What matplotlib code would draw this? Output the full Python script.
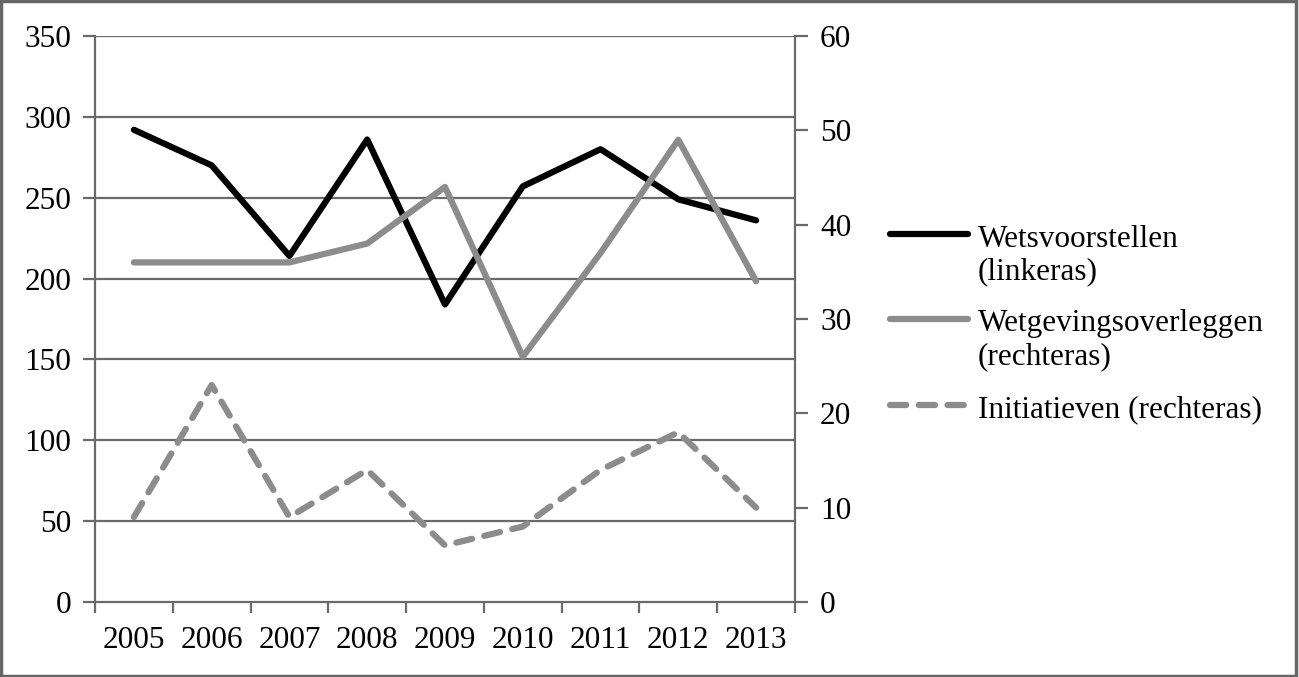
import matplotlib
matplotlib.use("Agg")
import matplotlib.pyplot as plt
from matplotlib.patches import Rectangle
from matplotlib.lines import Line2D

years = ["2005", "2006", "2007", "2008", "2009", "2010", "2011", "2012", "2013"]
wetsvoorstellen = [292, 270, 214, 286, 184, 257, 280, 249, 236]
wetgevingsoverleggen = [36, 36, 36, 38, 44, 26, 37, 49, 34]
initiatieven = [9, 23, 9, 14, 6, 8, 14, 18, 10]
left_ticks = [0, 50, 100, 150, 200, 250, 300, 350]
right_ticks = [0, 10, 20, 30, 40, 50, 60]
legend_labels = [["Wetsvoorstellen", "(linkeras)"],
                 ["Wetgevingsoverleggen", "(rechteras)"],
                 ["Initiatieven (rechteras)"]]

plt.rcParams['font.family'] = ['Liberation Serif', 'DejaVu Serif']
W, H = 1299, 677
FS = 22.5
fig = plt.figure(figsize=(W / 100, H / 100), dpi=100)
ax = fig.add_axes([95 / W, (H - 602) / H, 700 / W, 566 / H])
ax2 = ax.twinx()

grid_c = "#6a6a6a"
grey = "#8c8c8c"
x = list(range(len(years)))

ax.set_xlim(-0.5, len(years) - 0.5)
ax.set_ylim(0, 350)
ax2.set_ylim(0, 60)
ax.set_yticks(left_ticks)
ax2.set_yticks(right_ticks)
ax.set_xticks(x)
ax.set_xticklabels(years)
ax.set_xticks([i - 0.5 for i in range(len(years) + 1)], minor=True)
ax.tick_params(axis='x', which='major', length=0, pad=17, labelsize=FS)
ax.tick_params(axis='x', which='minor', length=8, width=1.6, color=grid_c, direction='out')
ax.tick_params(axis='y', length=9, width=1.6, color=grid_c, labelsize=FS, pad=8)
ax2.tick_params(axis='y', length=9, width=1.6, color=grid_c, labelsize=FS, pad=9)

for t in left_ticks[1:]:
    ax.axhline(t, color=grid_c, lw=1.6, zorder=1)

for a in (ax, ax2):
    for s in a.spines.values():
        s.set_visible(False)
ax.spines['left'].set_visible(True)
ax.spines['bottom'].set_visible(True)
ax2.spines['right'].set_visible(True)
for s in ('left', 'bottom'):
    ax.spines[s].set_color(grid_c)
    ax.spines[s].set_linewidth(1.6)
ax2.spines['right'].set_color(grid_c)
ax2.spines['right'].set_linewidth(1.6)

ax.plot(x, wetsvoorstellen, color='black', lw=4.5, solid_capstyle='round', zorder=5)
ax2.plot(x, wetgevingsoverleggen, color=grey, lw=4.5, solid_capstyle='round', zorder=4)
ax2.plot(x, initiatieven, color=grey, lw=4.5, ls=(0, (2.6, 2.0)), dash_capstyle='round', zorder=4)

# manual legend (handle aligned with first text line, as in the reference)
styles = [dict(color='black', lw=4.5, solid_capstyle='round'),
          dict(color=grey, lw=4.5, solid_capstyle='round'),
          dict(color=grey, lw=4.5, ls=(0, (2.6, 2.0)), dash_capstyle='round')]
row_y = [239, 324, 410]
line_h = 33
for labels, st, yy in zip(legend_labels, styles, row_y):
    fy = 1 - (yy - 5) / H
    fig.add_artist(Line2D([890 / W, 968 / W], [fy, fy], transform=fig.transFigure, **st))
    for k, lab in enumerate(labels):
        fig.text(978 / W, 1 - (yy + k * line_h) / H, lab, fontsize=FS, va='center', ha='left')

fig.add_artist(Rectangle((0.001, 0.002), 0.997, 0.996, transform=fig.transFigure,
                         fill=False, edgecolor='#666666', lw=2.5))

fig.savefig("out.png", dpi=100)
